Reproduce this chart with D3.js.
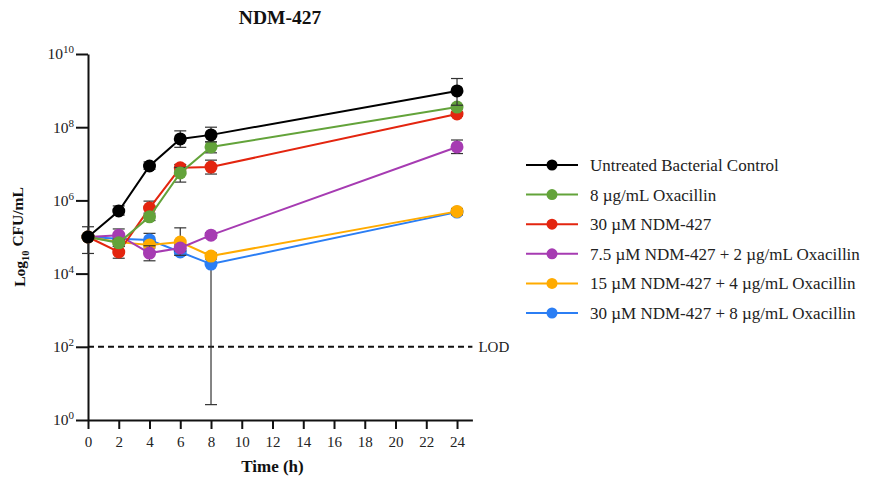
<!DOCTYPE html>
<html>
<head>
<meta charset="utf-8">
<script src="https://cdn.jsdelivr.net/npm/d3@7"></script>
<style>
  body { margin: 0; background: #fff; }
  svg { font-family: "Liberation Serif", "Times New Roman", serif; }
</style>
</head>
<body>
<script>
// time points (h)
const hours = [0, 2, 4, 6, 8, 24];

// series names and colours
const seriesNames = [
  "Untreated Bacterial Control",
  "8 µg/mL Oxacillin",
  "30 µM NDM-427",
  "7.5 µM NDM-427 + 2 µg/mL Oxacillin",
  "15 µM NDM-427 + 4 µg/mL Oxacillin",
  "30 µM NDM-427 + 8 µg/mL Oxacillin"
];
const seriesColors = ["#000000", "#63a33a", "#e3250f", "#a63bb2", "#ffab00", "#2b7ef4"];

// mean log10 CFU/mL
const untreated = [5.0, 5.71, 6.94, 7.68, 7.79, 8.99];
const oxa8      = [5.0, 4.84, 5.55, 6.75, 7.46, 8.55];
const ndm30     = [5.0, 4.59, 5.79, 6.89, 6.91, 8.36];
const combo75   = [5.0, 5.05, 4.56, 4.70, 5.05, 7.46];
const combo15   = [5.0, 4.86, 4.78, 4.86, 4.48, 5.70];
const combo30   = [5.0, 4.95, 4.92, 4.59, 4.26, 5.68];

// error bar ends (log10), low / high
const untreatedLo = [4.55, 5.6, 6.85, 7.45, 7.6, 8.6];
const untreatedHi = [5.28, 5.85, 7.05, 7.9, 8.0, 9.33];
const oxa8Lo      = [4.95, 4.74, 5.45, 6.5, 7.3, 8.5];
const oxa8Hi      = [5.05, 4.94, 5.65, 6.9, 7.6, 8.6];
const ndm30Lo     = [4.95, 4.42, 5.6, 6.8, 6.72, 8.3];
const ndm30Hi     = [5.05, 4.75, 5.98, 6.98, 7.1, 8.42];
const combo75Lo   = [4.95, 4.9, 4.35, 4.62, 4.98, 7.28];
const combo75Hi   = [5.05, 5.22, 4.76, 4.78, 5.12, 7.65];
const combo15Lo   = [4.95, 4.8, 4.7, 4.5, 4.4, 5.62];
const combo15Hi   = [5.05, 4.92, 4.86, 5.25, 4.56, 5.78];
const combo30Lo   = [4.95, 4.88, 4.78, 4.5, 0.42, 5.6];
const combo30Hi   = [5.05, 5.02, 5.1, 4.68, 4.5, 5.76];

const means = [untreated, oxa8, ndm30, combo75, combo15, combo30];
const lows = [untreatedLo, oxa8Lo, ndm30Lo, combo75Lo, combo15Lo, combo30Lo];
const highs = [untreatedHi, oxa8Hi, ndm30Hi, combo75Hi, combo15Hi, combo30Hi];

const xTicks = d3.range(0, 25, 2);
const yTicks = [0, 2, 4, 6, 8, 10];
const lod = 2;

const W = 869, H = 481;
const svg = d3.select("body").append("svg")
    .attr("width", W)
    .attr("height", H);

const x = d3.scaleLinear().domain([0, 25]).range([88, 472.4]);
const y = d3.scaleLog().domain([1, 1e10]).range([420, 54]);

// axes
const xAxis = d3.axisBottom(x).tickValues(xTicks).tickSize(9).tickSizeOuter(0).tickPadding(7);
const yAxis = d3.axisLeft(y).tickValues(yTicks.map(e => Math.pow(10, e))).tickSize(12).tickSizeOuter(0).tickFormat("");

const gx = svg.append("g").attr("transform", "translate(0,420)").call(xAxis);
const gy = svg.append("g").attr("transform", "translate(88,0)").call(yAxis);

[gx, gy].forEach(g => {
  g.selectAll("path, line").attr("stroke", "#111").attr("stroke-width", 2);
});
gx.selectAll("text").attr("font-size", 15).attr("font-family", "Liberation Serif").attr("fill", "#222");

gy.selectAll(".tick").each(function(d) {
  const t = d3.select(this).select("text")
      .attr("x", -14).attr("dy", "0.32em")
      .attr("font-size", 15.5).attr("font-family", "Liberation Serif").attr("fill", "#222");
  t.append("tspan").text("10");
  t.append("tspan").attr("font-size", 11).attr("dy", "-0.55em").text(Math.round(Math.log10(d)));
});

// LOD line
svg.append("line")
    .attr("x1", x(0)).attr("x2", x(25))
    .attr("y1", y(Math.pow(10, lod))).attr("y2", y(Math.pow(10, lod)))
    .attr("stroke", "#111").attr("stroke-width", 2)
    .attr("stroke-dasharray", "6,4");
svg.append("text")
    .attr("x", x(25) + 6).attr("y", y(Math.pow(10, lod)))
    .attr("dy", "0.35em").attr("font-size", 15).attr("fill", "#222")
    .text("LOD");

// series, drawn back to front so the control ends up on top
const line = d3.line()
    .x((d, i) => x(hours[i]))
    .y(d => y(Math.pow(10, d)));

d3.range(means.length).reverse().forEach(s => {
  const m = means[s];
  const g = svg.append("g");
  const col = seriesColors[s];
  // error bars
  m.forEach((v, i) => {
    const lo = y(Math.pow(10, lows[s][i])), hi = y(Math.pow(10, highs[s][i]));
    const cx = x(hours[i]);
    g.append("line").attr("x1", cx).attr("x2", cx).attr("y1", lo).attr("y2", hi)
        .attr("stroke", "#333").attr("stroke-width", 1.2);
    [lo, hi].forEach(yy => {
      g.append("line").attr("x1", cx - 6).attr("x2", cx + 6).attr("y1", yy).attr("y2", yy)
          .attr("stroke", "#333").attr("stroke-width", 1.2);
    });
  });
  g.append("path").datum(m)
      .attr("d", line)
      .attr("fill", "none")
      .attr("stroke", col)
      .attr("stroke-width", 2);
  g.selectAll("circle").data(m).join("circle")
      .attr("cx", (d, i) => x(hours[i]))
      .attr("cy", d => y(Math.pow(10, d)))
      .attr("r", 6.5)
      .attr("fill", col);
});

// title
svg.append("text")
    .attr("x", 280).attr("y", 24)
    .attr("text-anchor", "middle")
    .attr("font-size", 19.5).attr("font-weight", "bold").attr("fill", "#111")
    .text("NDM-427");

// axis titles
svg.append("text")
    .attr("x", x(12)).attr("y", 472)
    .attr("text-anchor", "middle")
    .attr("font-size", 17).attr("font-weight", "bold").attr("fill", "#111")
    .text("Time (h)");

const yl = svg.append("text")
    .attr("transform", "translate(25,237) rotate(-90)")
    .attr("text-anchor", "middle")
    .attr("font-size", 15.5).attr("font-weight", "bold").attr("fill", "#111");
yl.append("tspan").text("Log");
yl.append("tspan").attr("font-size", 10.5).attr("dy", "0.35em").text("10");
yl.append("tspan").attr("dy", "-0.35em").text(" CFU/mL");

// legend
const legend = svg.append("g").attr("transform", "translate(526,165)");
seriesNames.forEach((name, i) => {
  const row = legend.append("g").attr("transform", `translate(0,${i * 29.6})`);
  row.append("line").attr("x1", 0).attr("x2", 52).attr("y1", 0).attr("y2", 0)
      .attr("stroke", seriesColors[i]).attr("stroke-width", 2);
  row.append("circle").attr("cx", 26).attr("cy", 0).attr("r", 5.5).attr("fill", seriesColors[i]);
  row.append("text").attr("x", 64).attr("y", 0).attr("dy", "0.35em")
      .attr("font-size", 17).attr("fill", "#222").text(name);
});
</script>
</body>
</html>
